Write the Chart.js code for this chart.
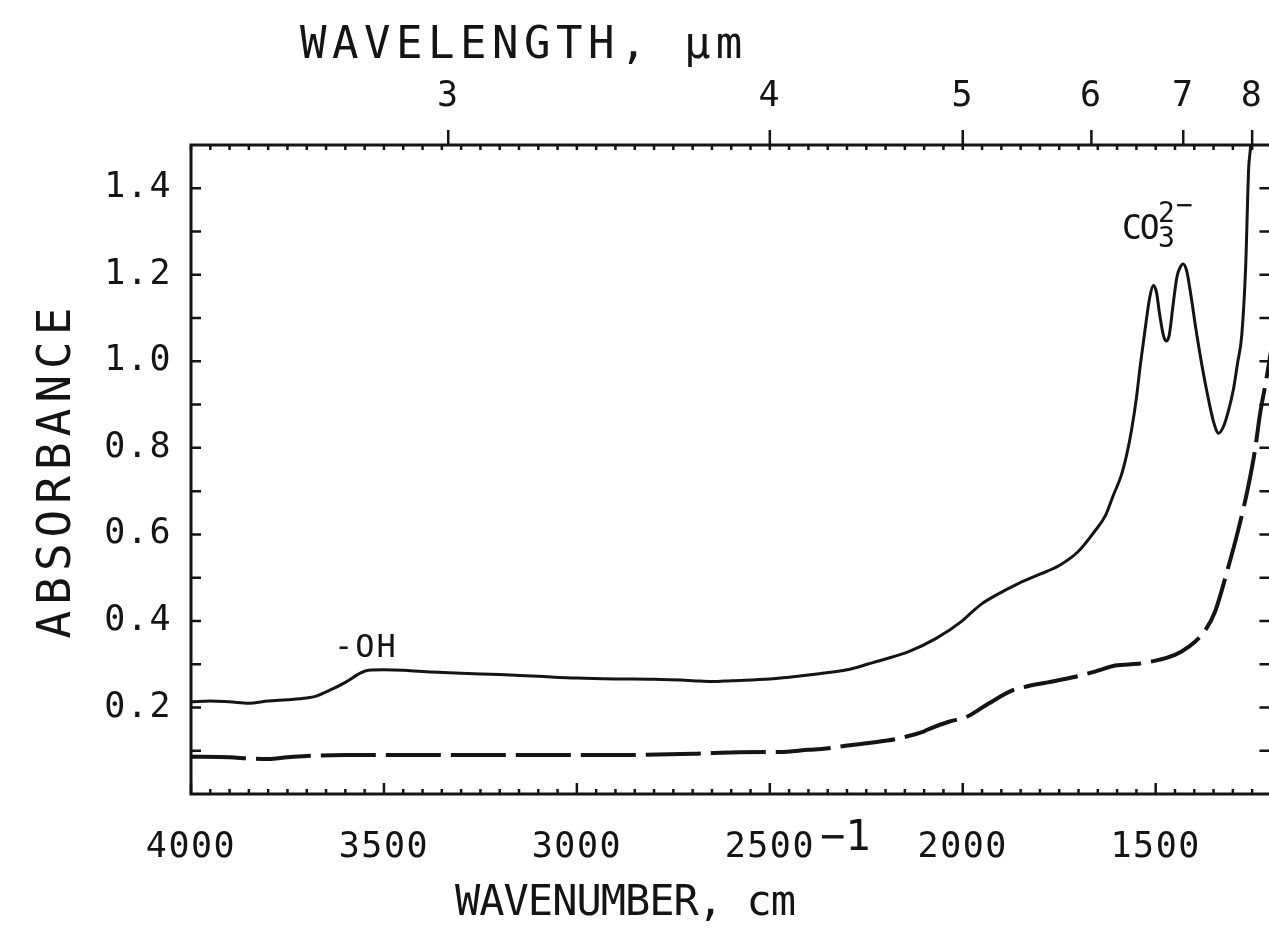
<!DOCTYPE html>
<html lang="en">
<head>
    <meta charset="UTF-8">
    <title>Absorbance spectrum</title>
    <script src="https://cdn.jsdelivr.net/npm/chart.js"></script>
    <style>
        html, body { margin: 0; padding: 0; background: #fff; overflow: hidden; }
        #wrap { position: absolute; left: 0; top: 0; }
    </style>
</head>
<body>
<div id="wrap">
    <canvas id="spectrum" width="1290" height="942"></canvas>
</div>

<script>
    // solid trace (sample) - wavenumber, cm-1 / absorbance
    const sampleWavenumber = [4000, 3950, 3900, 3850, 3800, 3750, 3700, 3680, 3640, 3600, 3560, 3540, 3500, 3450, 3400, 3300, 3200, 3100, 3000, 2900, 2800, 2700, 2650, 2600, 2500, 2450, 2372, 2300, 2243, 2200, 2140, 2070, 2003, 1977, 1950, 1915, 1855, 1800, 1750, 1700, 1660, 1630, 1610, 1589, 1575, 1563, 1550, 1540, 1527, 1515, 1506, 1498, 1490, 1480, 1473, 1465, 1455, 1445, 1435, 1429, 1420, 1410, 1395, 1380, 1365, 1350, 1337, 1324, 1311, 1298, 1288, 1277, 1267, 1259, 1254, 1248];
    const sampleAbs = [0.213, 0.215, 0.213, 0.210, 0.215, 0.218, 0.222, 0.225, 0.240, 0.258, 0.280, 0.286, 0.287, 0.286, 0.283, 0.279, 0.276, 0.272, 0.268, 0.266, 0.265, 0.262, 0.260, 0.262, 0.266, 0.270, 0.278, 0.287, 0.301, 0.312, 0.329, 0.359, 0.399, 0.420, 0.440, 0.459, 0.487, 0.508, 0.528, 0.561, 0.605, 0.644, 0.690, 0.737, 0.785, 0.839, 0.915, 0.990, 1.077, 1.150, 1.175, 1.160, 1.110, 1.060, 1.047, 1.060, 1.130, 1.195, 1.220, 1.225, 1.210, 1.160, 1.070, 0.990, 0.920, 0.860, 0.834, 0.850, 0.887, 0.938, 0.995, 1.060, 1.215, 1.447, 1.500, 1.650];

    // dashed trace (reference)
    const refWavenumber = [4000, 3900, 3850, 3800, 3750, 3700, 3600, 3500, 3000, 2908, 2700, 2649, 2500, 2475, 2400, 2354, 2300, 2200, 2173, 2100, 2088, 2036, 2000, 1990, 1933, 1873, 1837, 1780, 1708, 1650, 1605, 1545, 1512, 1470, 1434, 1398, 1372, 1346, 1313, 1287, 1261, 1243, 1230, 1215, 1200];
    const refAbs = [0.086, 0.085, 0.082, 0.081, 0.085, 0.088, 0.090, 0.090, 0.090, 0.090, 0.093, 0.095, 0.097, 0.097, 0.102, 0.105, 0.112, 0.123, 0.127, 0.145, 0.150, 0.167, 0.175, 0.178, 0.209, 0.239, 0.248, 0.258, 0.271, 0.285, 0.297, 0.301, 0.306, 0.315, 0.329, 0.352, 0.378, 0.422, 0.521, 0.607, 0.707, 0.793, 0.876, 0.950, 1.030];

    const wavenumberTicks = [4000, 3500, 3000, 2500, 2000, 1500];
    const wavelengthTicks = [3, 4, 5, 6, 7, 8];
    const absorbanceTicks = [0.2, 0.4, 0.6, 0.8, 1.0, 1.2, 1.4];

    const FONT = '"DejaVu Sans Mono", "Liberation Mono", monospace';
    const INK = '#141414';

    function txt(ctx, s, x, y, size, spacing) {
        ctx.font = size + 'px ' + FONT;
        ctx.letterSpacing = spacing + 'px';
        ctx.fillText(s, x, y);
    }

    // frame, inward ticks, titles and band labels
    const framePlugin = {
        id: 'frame',
        beforeDraw(chart) {
            chart.ctx.letterSpacing = '1.5px';
        },
        afterDraw(chart) {
            const ctx = chart.ctx;
            const a = chart.chartArea;
            const xs = chart.scales.x, x2 = chart.scales.x2, ys = chart.scales.y;
            ctx.save();
            ctx.strokeStyle = INK;
            ctx.lineWidth = 3;
            ctx.strokeRect(a.left, a.top, a.right - a.left, a.bottom - a.top);

            ctx.lineWidth = 2.5;
            ctx.beginPath();
            for (let w = 1200; w <= 4000; w += 50) {
                const px = xs.getPixelForValue(w);
                const len = w % 500 === 0 ? 11 : 5;
                ctx.moveTo(px, a.bottom);
                ctx.lineTo(px, a.bottom - len);
                ctx.moveTo(px, a.top);
                ctx.lineTo(px, a.top + 5);
            }
            wavelengthTicks.forEach(l => {
                const px = x2.getPixelForValue(10000 / l);
                ctx.moveTo(px, a.top);
                ctx.lineTo(px, a.top - 15);
            });
            for (let i = 1; i <= 14; i++) {
                const py = ys.getPixelForValue(i / 10);
                ctx.moveTo(a.left, py);
                ctx.lineTo(a.left + 10, py);
                ctx.moveTo(a.right, py);
                ctx.lineTo(a.right - 12, py);
            }
            ctx.stroke();

            ctx.fillStyle = INK;
            ctx.textBaseline = 'alphabetic';
            ctx.textAlign = 'left';

            // axis titles
            txt(ctx, 'WAVELENGTH, µm', 300, 58, 44, 5.5);
            txt(ctx, 'WAVENUMBER, cm', 455, 915, 42, -1);
            txt(ctx, '−1', 820, 850, 42, 0);

            ctx.save();
            ctx.translate(70, 473);
            ctx.rotate(-Math.PI / 2);
            ctx.textAlign = 'center';
            txt(ctx, 'ABSORBANCE', 3, 0, 46, 6);
            ctx.restore();

            // band labels
            txt(ctx, '-OH', 334, 657, 32, 2);
            txt(ctx, 'CO', 1122, 239, 33, -2);
            txt(ctx, '2', 1158, 222, 28, 0);
            txt(ctx, '3', 1158, 247, 28, 0);
            txt(ctx, '−', 1176, 214, 28, 0);
            ctx.restore();
            ctx.letterSpacing = '0px';
        }
    };

    const tickFont = { family: FONT, size: 35 };

    new Chart(document.getElementById('spectrum'), {
        type: 'line',
        data: {
            datasets: [{
                label: 'sample',
                data: sampleWavenumber.map((w, i) => ({ x: w, y: sampleAbs[i] })),
                borderColor: INK,
                borderWidth: 3,
                pointRadius: 0,
                cubicInterpolationMode: 'monotone'
            }, {
                label: 'reference',
                data: refWavenumber.map((w, i) => ({ x: w, y: refAbs[i] })),
                borderColor: INK,
                borderWidth: 4,
                borderDash: [55, 10],
                pointRadius: 0,
                cubicInterpolationMode: 'monotone'
            }]
        },
        options: {
            responsive: false,
            animation: false,
            devicePixelRatio: 1,
            layout: { padding: { left: 0, top: 0, right: 17, bottom: 0 } },
            plugins: { legend: { display: false }, tooltip: { enabled: false } },
            scales: {
                x: {
                    type: 'linear', position: 'bottom', reverse: true, min: 1200, max: 4000,
                    grid: { display: false, drawTicks: false },
                    border: { display: false },
                    ticks: { font: tickFont, color: INK, padding: 33, maxRotation: 0, autoSkip: false, callback: v => String(v) },
                    afterBuildTicks: s => { s.ticks = wavenumberTicks.map(v => ({ value: v })); },
                    afterFit: s => { s.height = 148; }
                },
                x2: {
                    type: 'linear', position: 'top', reverse: true, min: 1200, max: 4000,
                    grid: { display: false, drawTicks: false },
                    border: { display: false },
                    ticks: { font: tickFont, color: INK, padding: 27, maxRotation: 0, autoSkip: false, callback: v => String(Math.round(10000 / v)) },
                    afterBuildTicks: s => { s.ticks = wavelengthTicks.map(l => ({ value: 10000 / l })); },
                    afterFit: s => { s.height = 145; }
                },
                y: {
                    type: 'linear', position: 'left', min: 0, max: 1.5,
                    grid: { display: false, drawTicks: false },
                    border: { display: false },
                    ticks: { font: tickFont, color: INK, padding: 19, callback: v => v.toFixed(1) },
                    afterBuildTicks: s => { s.ticks = absorbanceTicks.map(v => ({ value: v })); },
                    afterFit: s => { s.width = 191; }
                }
            }
        },
        plugins: [framePlugin]
    });
</script>
</body>
</html>
